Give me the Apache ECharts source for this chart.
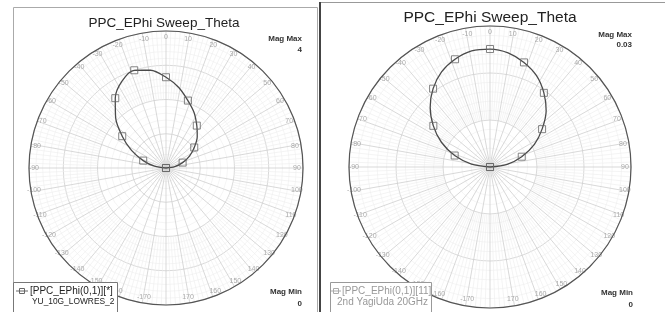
<!DOCTYPE html>
<html>
<head>
<meta charset="utf-8">
<script src="https://cdn.jsdelivr.net/npm/echarts@6/dist/echarts.min.js"></script>
<style>
  html, body { margin: 0; padding: 0; background: #fff; }
  #chart { width: 665px; height: 312px; }
</style>
</head>
<body>
<div id="chart"></div>
<script>
// theta sweep (deg), shared by both plots
const thetaDeg = [-90, -81, -72, -63, -54, -45, -36, -27, -18, -9, 0, 9, 18, 27, 36, 45, 54, 63, 72, 81, 90];
// left plot: YU_10G_LOWRES_2, mag 0..4
const leftMag = [0, 0.34, 0.70, 1.13, 1.58, 2.08, 2.52, 2.84, 3.00, 2.89, 2.65, 2.38, 2.07, 1.81, 1.53, 1.29, 1.02, 0.77, 0.51, 0.26, 0];
// right plot: 2nd YagiUda 20GHz, mag 0..0.03
const rightMag = [0, 0.0040, 0.0079, 0.0116, 0.0149, 0.0180, 0.0206, 0.0227, 0.0241, 0.0250, 0.0251, 0.0246, 0.0234, 0.0218, 0.0195, 0.0169, 0.0137, 0.0106, 0.0071, 0.0037, 0];
// markers only every 18 deg
const markerTheta = [-90, -72, -54, -36, -18, 0, 18, 36, 54, 72, 90];
const leftMagMax = 4, leftMagInterval = 1;
const rightMagMax = 0.03, rightMagInterval = 0.01;

const FONT = "'Liberation Sans', Arial, sans-serif";

function toPolar(mags) {
  return thetaDeg.map((t, i) => [mags[i], t]);
}
function toMarkers(mags) {
  return thetaDeg
    .map((t, i) => [mags[i], t])
    .filter(p => markerTheta.indexOf(p[1]) >= 0);
}

// angle axis: -180 at bottom, clockwise -> 0 at top, 90 at right
function baseAngle(polarIndex) {
  return {
    polarIndex: polarIndex,
    type: 'value',
    min: -180,
    max: 180,
    interval: 10,
    startAngle: 270,
    clockwise: true,
    axisTick: { show: false }
  };
}
function mainAngle(polarIndex) {
  return Object.assign(baseAngle(polarIndex), {
    axisLine: { lineStyle: { color: '#555', width: 1.2 } },
    axisLabel: { show: false },
    splitLine: { show: true, lineStyle: { color: '#cfcfcf', width: 0.8 } }
  });
}
// fine 2 deg spokes on the outer annulus
function minorAngle(polarIndex) {
  return Object.assign(baseAngle(polarIndex), {
    axisLine: { show: false },
    axisLabel: { show: false },
    splitLine: { show: false },
    minorTick: { show: false, splitNumber: 5 },
    minorSplitLine: { show: true, lineStyle: { color: '#ececec', width: 0.6 } },
    silent: true
  });
}
// tick labels, drawn just outside a slightly smaller circle
function labelAngle(polarIndex) {
  return Object.assign(baseAngle(polarIndex), {
    axisLine: { show: false },
    splitLine: { show: false },
    axisLabel: {
      margin: 2,
      fontSize: 7,
      color: '#aaa',
      fontFamily: FONT,
      formatter: v => (v === -180 ? '' : String(v))
    },
    silent: true
  });
}
function mainRadius(polarIndex, max, interval) {
  return {
    polarIndex: polarIndex,
    type: 'value',
    min: 0,
    max: max,
    interval: interval,
    axisLine: { show: false },
    axisTick: { show: false },
    axisLabel: { show: false },
    splitLine: { show: true, lineStyle: { color: '#cfcfcf', width: 0.8 } },
    minorTick: { show: false, splitNumber: 5 },
    minorSplitLine: { show: true, lineStyle: { color: '#efefef', width: 0.6 } }
  };
}
function hiddenRadius(polarIndex) {
  return {
    polarIndex: polarIndex,
    type: 'value',
    min: 0,
    max: 1,
    axisLine: { show: false },
    axisTick: { show: false },
    axisLabel: { show: false },
    splitLine: { show: false }
  };
}
function lineSeries(polarIndex, mags) {
  return {
    type: 'line',
    coordinateSystem: 'polar',
    polarIndex: polarIndex,
    data: toPolar(mags),
    smooth: 0.3,
    showSymbol: false,
    lineStyle: { color: '#4a4a4a', width: 1.3 },
    z: 3
  };
}
function markerSeries(polarIndex, mags) {
  return {
    type: 'scatter',
    coordinateSystem: 'polar',
    polarIndex: polarIndex,
    data: toMarkers(mags),
    symbol: 'rect',
    symbolSize: 7,
    itemStyle: { color: 'rgba(255,255,255,0)', borderColor: '#666', borderWidth: 1 },
    z: 4
  };
}
function txt(x, y, text, opt) {
  return {
    type: 'text',
    x: x,
    y: y,
    style: Object.assign({
      text: text,
      fontFamily: FONT,
      fontSize: 8,
      fontWeight: 'bold',
      fill: '#333',
      align: 'right',
      verticalAlign: 'middle'
    }, opt || {}),
    z: 20
  };
}

const chart = echarts.init(document.getElementById('chart'));
chart.setOption({
  animation: false,
  backgroundColor: '#fff',
  polar: [
    { center: [166, 168], radius: 137 },
    { center: [490, 167], radius: 141 },
    { center: [166, 168], radius: [68.5, 137] },
    { center: [490, 167], radius: [47, 141] },
    { center: [166, 168], radius: 125 },
    { center: [490, 167], radius: 129 }
  ],
  angleAxis: [mainAngle(0), mainAngle(1), minorAngle(2), minorAngle(3), labelAngle(4), labelAngle(5)],
  radiusAxis: [
    mainRadius(0, leftMagMax, leftMagInterval),
    mainRadius(1, rightMagMax, rightMagInterval),
    hiddenRadius(2),
    hiddenRadius(3),
    hiddenRadius(4),
    hiddenRadius(5)
  ],
  series: [
    lineSeries(0, leftMag),
    markerSeries(0, leftMag),
    lineSeries(1, rightMag),
    markerSeries(1, rightMag)
  ],
  graphic: [
    // panel frames
    { type: 'rect', shape: { x: 13.5, y: 7.5, width: 304, height: 310 }, style: { fill: 'none', stroke: '#aaa', lineWidth: 1 }, z: 10 },
    { type: 'line', shape: { x1: 320, y1: 2, x2: 320, y2: 312 }, style: { stroke: '#444', lineWidth: 2 }, z: 10 },
    { type: 'line', shape: { x1: 321, y1: 2.5, x2: 665, y2: 2.5 }, style: { stroke: '#999', lineWidth: 1 }, z: 10 },
    // titles
    txt(164, 23, 'PPC_EPhi Sweep_Theta', { align: 'center', fontSize: 13.5, fontWeight: 'normal', fill: '#222' }),
    txt(490, 18, 'PPC_EPhi Sweep_Theta', { align: 'center', fontSize: 15.5, fontWeight: 'normal', fill: '#222' }),
    // mag labels
    txt(302, 39, 'Mag Max'),
    txt(302, 50, '4'),
    txt(302, 292, 'Mag Min'),
    txt(302, 304, '0'),
    txt(632, 35, 'Mag Max'),
    txt(632, 45, '0.03'),
    txt(633, 293, 'Mag Min'),
    txt(633, 305, '0'),
    // left legend
    { type: 'rect', shape: { x: 13.5, y: 282.5, width: 104, height: 32 }, style: { fill: '#fff', stroke: '#777', lineWidth: 1 }, z: 15 },
    { type: 'line', shape: { x1: 16, y1: 291, x2: 28, y2: 291 }, style: { stroke: '#666', lineWidth: 1 }, z: 16 },
    { type: 'rect', shape: { x: 19.5, y: 288.5, width: 5, height: 5 }, style: { fill: 'none', stroke: '#666', lineWidth: 1 }, z: 16 },
    txt(30, 291, '[PPC_EPhi(0,1)][*]', { align: 'left', fontSize: 10, fontWeight: 'normal', fill: '#222' }),
    txt(32, 302, 'YU_10G_LOWRES_2', { align: 'left', fontSize: 8.4, fontWeight: 'normal', fill: '#222' }),
    // right legend
    { type: 'rect', shape: { x: 330.5, y: 282.5, width: 101, height: 32 }, style: { fill: '#fff', stroke: '#999', lineWidth: 1 }, z: 15 },
    { type: 'line', shape: { x1: 331, y1: 291, x2: 341, y2: 291 }, style: { stroke: '#aaa', lineWidth: 1 }, z: 16 },
    { type: 'rect', shape: { x: 333.5, y: 288.5, width: 5, height: 5 }, style: { fill: 'none', stroke: '#aaa', lineWidth: 1 }, z: 16 },
    txt(342, 291, '[PPC_EPhi(0,1)][11]', { align: 'left', fontSize: 10, fontWeight: 'normal', fill: '#999' }),
    txt(428, 302, '2nd YagiUda 20GHz', { align: 'right', fontSize: 10, fontWeight: 'normal', fill: '#999' })
  ]
});
window.addEventListener('resize', () => chart.resize());
</script>
</body>
</html>
